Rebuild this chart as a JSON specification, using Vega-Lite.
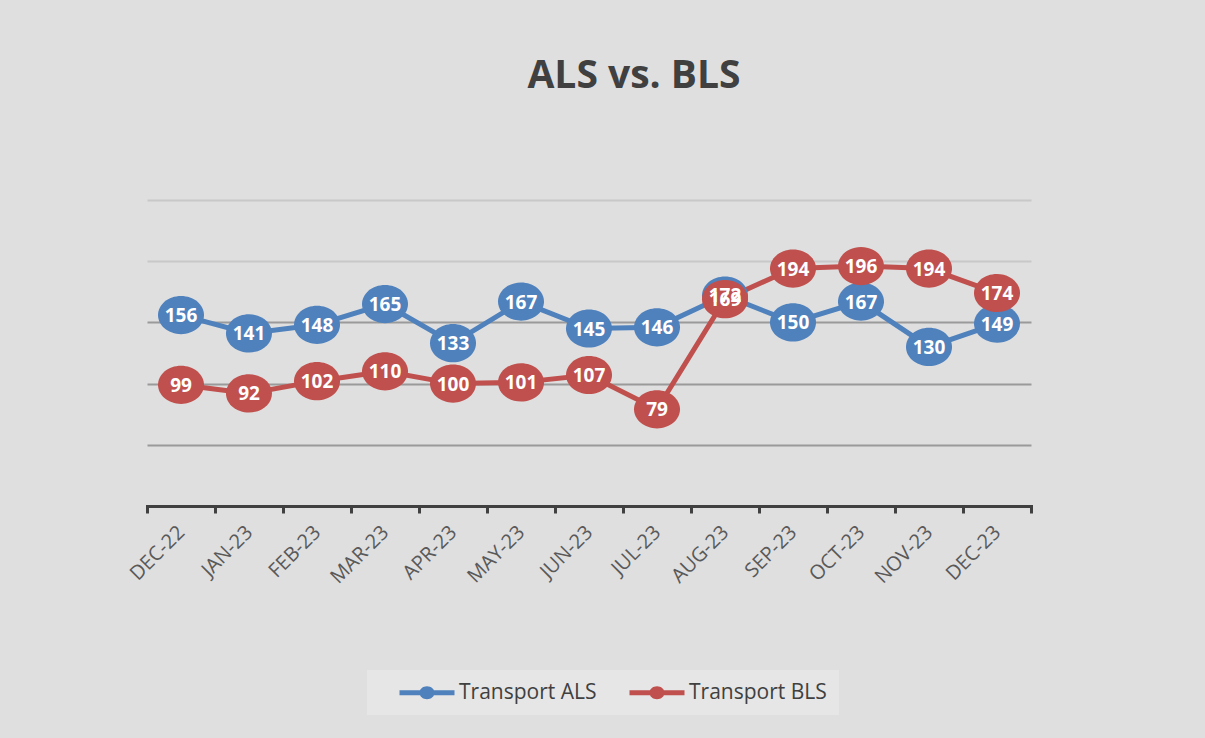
{
  "$schema": "https://vega.github.io/schema/vega-lite/v6.json",
  "width": 884,
  "height": 306,
  "autosize": {"type": "none"},
  "padding": {"left": 147, "top": 200, "right": 174, "bottom": 232},
  "background": "#dfdfdf",
  "title": {"text": "ALS vs. BLS", "font": "Open Sans", "fontSize": 39, "fontWeight": "bold", "color": "#404040", "anchor": "middle", "frame": "group", "dx": 45, "offset": 73, "baseline": "alphabetic"},
  "config": {"view": {"stroke": null}},
  "data": {"values": [
    {"month": "DEC-22", "series": "Transport ALS", "value": 156},
    {"month": "JAN-23", "series": "Transport ALS", "value": 141},
    {"month": "FEB-23", "series": "Transport ALS", "value": 148},
    {"month": "MAR-23", "series": "Transport ALS", "value": 165},
    {"month": "APR-23", "series": "Transport ALS", "value": 133},
    {"month": "MAY-23", "series": "Transport ALS", "value": 167},
    {"month": "JUN-23", "series": "Transport ALS", "value": 145},
    {"month": "JUL-23", "series": "Transport ALS", "value": 146},
    {"month": "AUG-23", "series": "Transport ALS", "value": 172},
    {"month": "SEP-23", "series": "Transport ALS", "value": 150},
    {"month": "OCT-23", "series": "Transport ALS", "value": 167},
    {"month": "NOV-23", "series": "Transport ALS", "value": 130},
    {"month": "DEC-23", "series": "Transport ALS", "value": 149},
    {"month": "DEC-22", "series": "Transport BLS", "value": 99},
    {"month": "JAN-23", "series": "Transport BLS", "value": 92},
    {"month": "FEB-23", "series": "Transport BLS", "value": 102},
    {"month": "MAR-23", "series": "Transport BLS", "value": 110},
    {"month": "APR-23", "series": "Transport BLS", "value": 100},
    {"month": "MAY-23", "series": "Transport BLS", "value": 101},
    {"month": "JUN-23", "series": "Transport BLS", "value": 107},
    {"month": "JUL-23", "series": "Transport BLS", "value": 79},
    {"month": "AUG-23", "series": "Transport BLS", "value": 169},
    {"month": "SEP-23", "series": "Transport BLS", "value": 194},
    {"month": "OCT-23", "series": "Transport BLS", "value": 196},
    {"month": "NOV-23", "series": "Transport BLS", "value": 194},
    {"month": "DEC-23", "series": "Transport BLS", "value": 174}
  ]},
  "encoding": {
    "x": {"field": "month", "type": "nominal", "sort": null,
      "scale": {"paddingInner": 0, "paddingOuter": 0},
      "axis": {"title": null, "labelAngle": -45, "labelAlign": "right", "labelBaseline": "middle", "labelFont": "Open Sans", "labelFontSize": 20, "labelColor": "#595959", "labelPadding": 16, "domainColor": "#404040", "domainWidth": 3, "tickColor": "#404040", "tickWidth": 3, "tickSize": 7, "tickBand": "extent", "grid": false, "domainCap": "square"}},
    "y": {"field": "value", "type": "quantitative",
      "scale": {"domain": [0, 250]},
      "axis": {"title": null, "labels": false, "ticks": false, "domain": false, "grid": true, "values": [50, 100, 150, 200, 250], "gridWidth": 2,
        "gridColor": {"condition": {"test": "datum.value >= 200", "value": "#c8c8c8"}, "value": "#9a9a9a"}}},
    "color": {"field": "series", "type": "nominal",
      "scale": {"domain": ["Transport ALS", "Transport BLS"], "range": ["#4f81bd", "#c0504d"]},
      "legend": {"title": null, "orient": "none", "legendX": 220, "legendY": 470, "direction": "horizontal", "fillColor": "#e6e6e6", "padding": 12,
        "labelFont": "Open Sans", "labelFontSize": 21, "labelColor": "#404040", "labelOffset": 59, "columnPadding": 12,
        "symbolType": "M1,-0.25H6.5V0.25H1Z M3,0A0.75,0.65,0,1,1,4.5,0A0.75,0.65,0,1,1,3,0Z",
        "symbolSize": 400, "symbolStrokeWidth": 0, "symbolOpacity": 1,
        "encode": {"symbols": {"update": {"fill": {"scale": "color", "field": "value"}, "strokeWidth": {"value": 0}}}}}}
  },
  "layer": [
    {"mark": {"type": "line", "strokeWidth": 5}},
    {"mark": {"type": "point", "filled": true, "opacity": 1, "shape": "M-1,0A1,0.83,0,1,1,1,0A1,0.83,0,1,1,-1,0Z", "size": 2116}},
    {"mark": {"type": "text", "font": "Open Sans", "fontWeight": "bold", "fontSize": 19, "baseline": "middle", "align": "center", "dy": 1},
      "encoding": {"text": {"field": "value"}, "color": {"value": "white"}}}
  ]
}
